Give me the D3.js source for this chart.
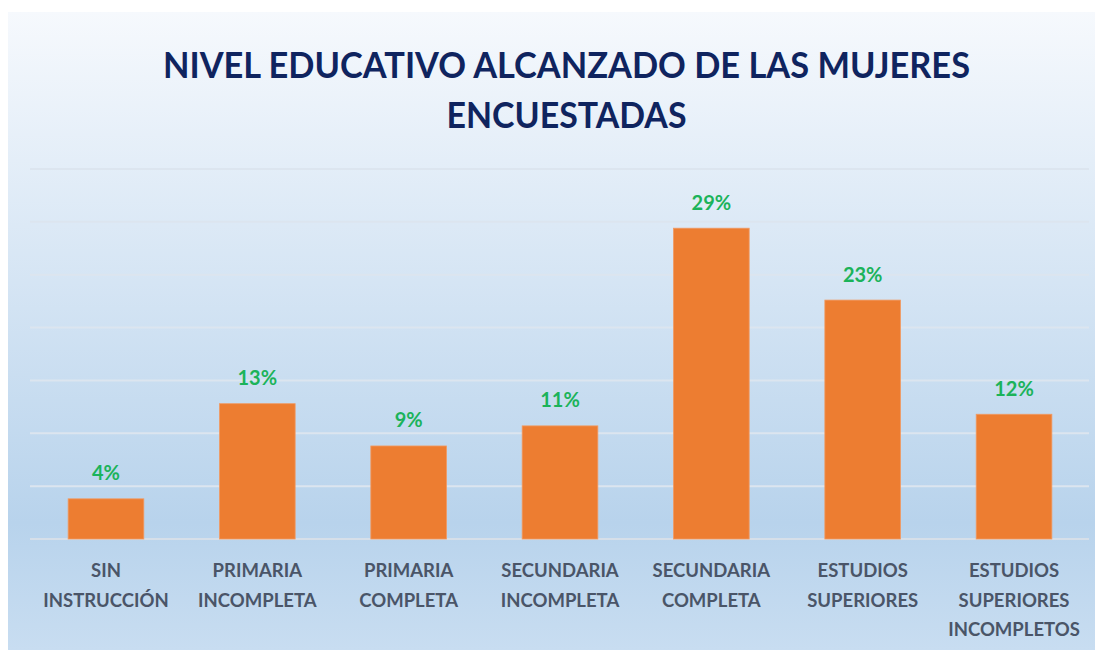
<!DOCTYPE html>
<html><head><meta charset="utf-8">
<script src="https://cdn.jsdelivr.net/npm/d3@7"></script>
<style>html,body{margin:0;padding:0;background:#fff;}svg{display:block;}</style>
</head><body>
<svg id="c" width="1095" height="650"></svg>
<script>
const titleLines = ["NIVEL EDUCATIVO ALCANZADO DE LAS MUJERES", "ENCUESTADAS"];
const categories = [
  ["SIN", "INSTRUCCIÓN"],
  ["PRIMARIA", "INCOMPLETA"],
  ["PRIMARIA", "COMPLETA"],
  ["SECUNDARIA", "INCOMPLETA"],
  ["SECUNDARIA", "COMPLETA"],
  ["ESTUDIOS", "SUPERIORES"],
  ["ESTUDIOS", "SUPERIORES", "INCOMPLETOS"]
];
const values = [0.038, 0.128, 0.088, 0.107, 0.294, 0.226, 0.118];
const gridTicks = [0, 0.05, 0.10, 0.15, 0.20, 0.25, 0.30, 0.35];

const W = 1095, H = 650;
const svg = d3.select("#c");
const defs = svg.append("defs");
const grad = defs.append("linearGradient").attr("id","bg").attr("x1",0).attr("y1",0).attr("x2",0).attr("y2",1);
grad.append("stop").attr("offset","0%").attr("stop-color","#f6f9fd");
grad.append("stop").attr("offset","80%").attr("stop-color","#b8d3ec");
grad.append("stop").attr("offset","100%").attr("stop-color","#c8ddf1");

svg.append("rect").attr("x",8).attr("y",12).attr("width",W-8).attr("height",H-12).attr("fill","url(#bg)");

const x = d3.scaleBand().domain(d3.range(categories.length)).range([30.3, 1089.7]).paddingInner(0.5).paddingOuter(0.25);
const y = d3.scaleLinear().domain([0, 0.35]).range([539, 169]);

svg.append("g").selectAll("line").data(gridTicks).join("line")
  .attr("x1",30).attr("x2",1089)
  .attr("y1",d=>y(d)).attr("y2",d=>y(d))
  .attr("stroke",d=> d===0 ? "#d6dfe9" : "#dce5ef").attr("stroke-width",2);

svg.append("g").selectAll("rect").data(values).join("rect")
  .attr("x",(d,i)=>x(i)).attr("width",x.bandwidth())
  .attr("y",d=>y(d)).attr("height",d=>y(0)-y(d))
  .attr("fill","#ed7d31").attr("stroke","#f09a63").attr("stroke-width",0.8);

const fmt = d3.format(".0%");
svg.append("g").selectAll("text").data(values).join("text")
  .attr("x",(d,i)=>x(i)+x.bandwidth()/2).attr("y",d=>y(d)-18.5)
  .attr("text-anchor","middle")
  .attr("font-family","Lato, sans-serif").attr("font-weight",700).attr("font-size",20)
  .attr("fill","#1bb35a").text(d=>fmt(d));

const cat = svg.append("g").selectAll("text").data(categories).join("text")
  .attr("text-anchor","middle")
  .attr("font-family","Lato, sans-serif").attr("font-weight",700).attr("font-size",18.5)
  .attr("fill","#4a5568");
cat.each(function(lines,i){
  const t = d3.select(this);
  lines.forEach((l,j)=>{
    t.append("tspan").attr("x",x(i)+x.bandwidth()/2).attr("y",577+j*29.5).text(l);
  });
});

const titleW = [807, 240];
svg.append("g").selectAll("text").data(titleLines).join("text")
  .attr("x",566.5).attr("y",(d,i)=>78+i*50)
  .attr("text-anchor","middle")
  .attr("font-family","Lato, sans-serif").attr("font-weight",700).attr("font-size",37)
  .attr("fill","#0f245f")
  .attr("textLength",(d,i)=>titleW[i]).attr("lengthAdjust","spacingAndGlyphs")
  .text(d=>d);
</script>
</body></html>
